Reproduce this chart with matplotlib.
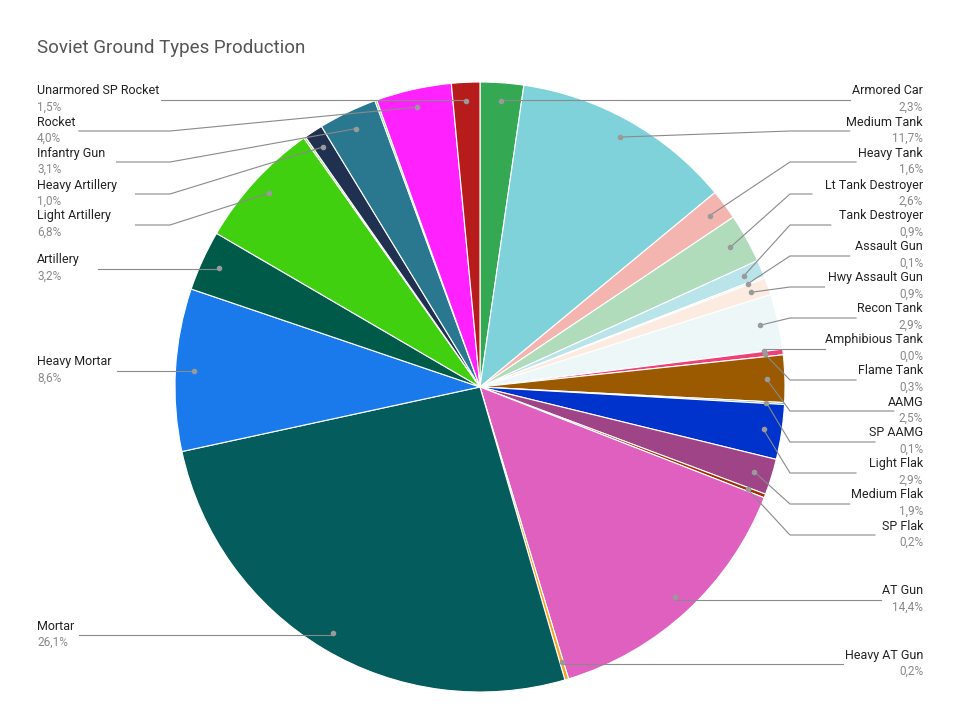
import matplotlib
matplotlib.use("Agg")
import matplotlib.pyplot as plt
import numpy as np

categories = ["Armored Car","Medium Tank","Heavy Tank","Lt Tank Destroyer","Tank Destroyer",
    "Assault Gun","Hwy Assault Gun","Recon Tank","Amphibious Tank","Flame Tank","AAMG","SP AAMG",
    "Light Flak","Medium Flak","SP Flak","AT Gun","Heavy AT Gun","Mortar","Heavy Mortar","Artillery",
    "Light Artillery","","Heavy Artillery","Infantry Gun","","Rocket","Unarmored SP Rocket"]
values = [2.3,11.7,1.6,2.6,0.9,0.1,0.9,2.9,0.02,0.3,2.5,0.1,2.9,1.9,0.2,14.4,0.2,26.1,8.6,3.2,
    6.8,0.1,1.0,3.1,0.1,4.0,1.5]
pct_labels = ["2,3%","11,7%","1,6%","2,6%","0,9%","0,1%","0,9%","2,9%","0,0%","0,3%","2,5%","0,1%",
    "2,9%","1,9%","0,2%","14,4%","0,2%","26,1%","8,6%","3,2%","6,8%","","1,0%","3,1%","","4,0%","1,5%"]
colors = ["#34a853","#80d2da","#f4b5b0","#b0dcbc","#b8e4ea","#e8f4f0","#fcebe0","#eef7f7","#c0c0c0",
    "#f0407a","#9c5a00","#60a0a0","#0033cc","#a04488","#a03000","#e060c0","#f5a623","#055c5c",
    "#1a7aec","#005a4a","#40d010","#80e040","#203050","#2a7890","#70e030","#ff22ff","#b71c1c"]
# label name y positions (pixels), side
label_y = [91,122,153,185,216,247,278,309,340,371,402,433,464,495,526,591,655,626,362,260,216,None,185,153,None,122,91]

W,H = 960,727
fig = plt.figure(figsize=(9.6,7.27), dpi=100)
ax = fig.add_axes([0,0,1,1])
ax.set_xlim(0,W); ax.set_ylim(H,0); ax.axis("off")
cx, cy, R = 480, 387, 305
wedges,_ = ax.pie(values, colors=colors, center=(cx,cy), radius=R, startangle=-90,
                  counterclock=True, wedgeprops=dict(edgecolor="white", linewidth=0.8), frame=True)
ax.set_xlim(0,W); ax.set_ylim(H,0); ax.axis("off"); ax.set_aspect("auto")

fig.text(37/W, 1-48/H, "Soviet Ground Types Production", fontsize=13.5, color="#555555", va="center", family="Roboto")

for w, name, pct, ly in zip(wedges, categories, pct_labels, label_y):
    if ly is None: continue
    th = np.deg2rad((w.theta1+w.theta2)/2)
    ax0 = cx + 0.94*R*np.cos(th); ay0 = cy + 0.94*R*np.sin(th)
    liney = ly + 9
    right = ax0 >= cx
    tw = len(name)*6.3
    if right:
        ex = 923 - tw - 4
        elbow = max(ax0, 790) if abs(ay0-liney) > 3 else ax0
        ax.plot([ax0, elbow, ex], [ay0, liney, liney], color="#8a8a8a", lw=0.8, zorder=5)
        tx, ha = 923, "right"
    else:
        ex = 37 + tw + 4
        elbow = min(ax0, 170) if abs(ay0-liney) > 3 else ax0
        ax.plot([ax0, elbow, ex], [ay0, liney, liney], color="#8a8a8a", lw=0.8, zorder=5)
        tx, ha = 37, "left"
    ax.plot([ax0],[ay0], "o", ms=3, color="#9a9a9a", zorder=6)
    ax.text(tx, ly, name, ha=ha, va="center", fontsize=9, color="#222222", family="Roboto")
    ax.text(tx, ly+16, pct, ha=ha, va="center", fontsize=8.5, color="#888888", family="Roboto")

fig.savefig("out.png", dpi=100, facecolor="white")
